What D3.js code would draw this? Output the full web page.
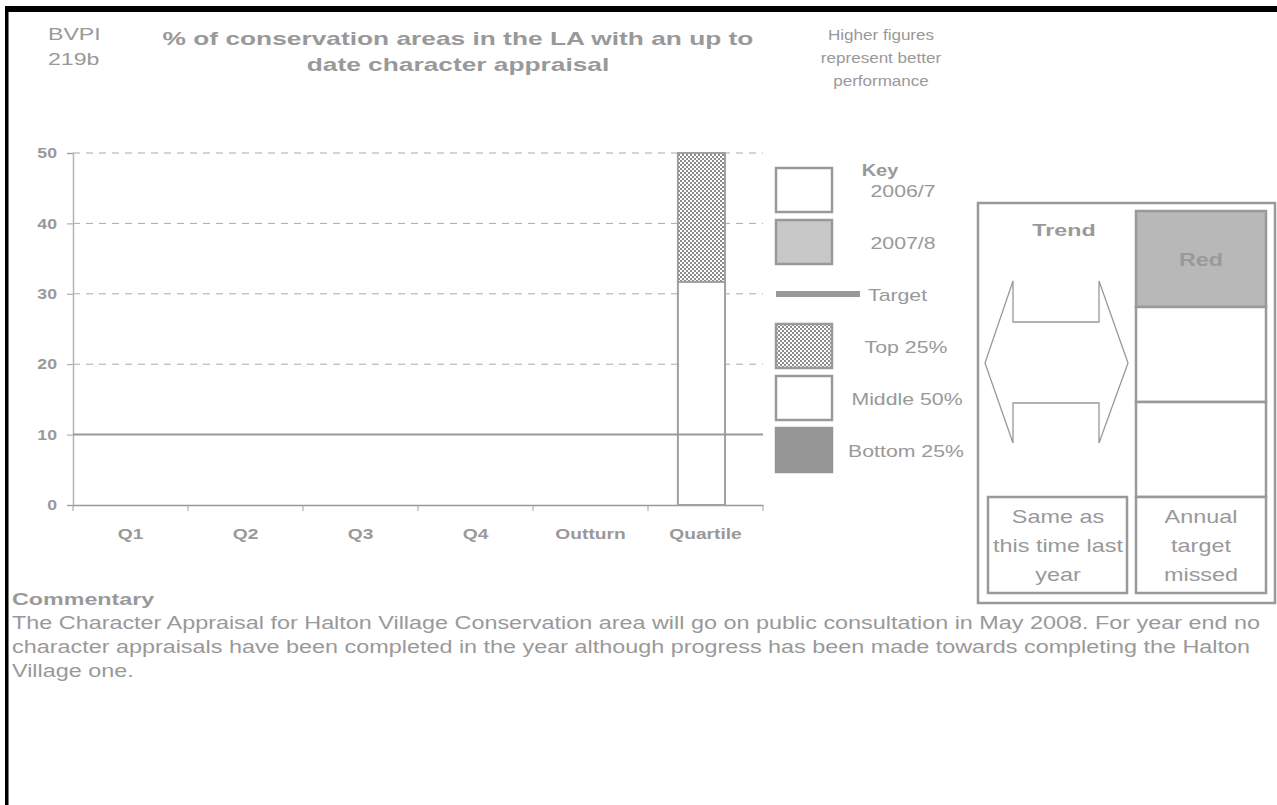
<!DOCTYPE html>
<html>
<head>
<meta charset="utf-8">
<script src="https://cdn.jsdelivr.net/npm/d3@7"></script>
<style>
  html, body { margin: 0; padding: 0; background: #fff; }
  svg { display: block; font-family: "Liberation Sans", Arial, sans-serif; }
</style>
</head>
<body>
<svg id="chart" width="1277" height="805"></svg>
<script>
// Indicator data
const categories = ["Q1", "Q2", "Q3", "Q4", "Outturn", "Quartile"];
const values2006 = [null, null, null, null, null, null];
const values2007 = [null, null, null, null, null, null];
const targetValue = 10;
// Quartile band boundaries (bottom, middle, top)
const quartileBottom = 0;
const quartileMiddle = 31.7;
const quartileTop = 50;
const yTicks = [0, 10, 20, 30, 40, 50];
const gridTicks = [20, 30, 40, 50];
const legendLabels = ["2006/7", "2007/8", "Target", "Top 25%", "Middle 50%", "Bottom 25%"];
const titleLines = ["% of conservation areas in the LA with an up to", "date character appraisal"];
const noteLines = ["Higher figures", "represent better", "performance"];
const trendText = ["Same as", "this time last", "year"];
const targetText = ["Annual", "target", "missed"];
const commentary = [
  "The Character Appraisal for Halton Village Conservation area will go on public consultation in May 2008. For year end no",
  "character appraisals have been completed in the year although progress has been made towards completing the Halton",
  "Village one."
];

const GREY = "#999999";
const svg = d3.select("#chart");

// the report typeface is set wide: widen text horizontally about its anchor
function stretch(sel, sx) {
  sel.each(function () {
    const t = d3.select(this);
    const tx = +t.attr("x") || 0, ty = +t.attr("y") || 0;
    t.attr("transform", `translate(${tx},${ty}) scale(${sx},1)`).attr("x", 0).attr("y", 0);
  });
  return sel;
}

// checker pattern for the top quartile
const defs = svg.append("defs");
const pat = defs.append("pattern").attr("id", "checker")
  .attr("patternUnits", "userSpaceOnUse").attr("width", 4).attr("height", 4);
pat.append("rect").attr("width", 4).attr("height", 4).attr("fill", "#fff");
pat.append("rect").attr("width", 2).attr("height", 2).attr("fill", "#8c8c8c");
pat.append("rect").attr("x", 2).attr("y", 2).attr("width", 2).attr("height", 2).attr("fill", "#8c8c8c");

// page frame
svg.append("rect").attr("x", 5).attr("y", 6).attr("width", 1272).attr("height", 6).attr("fill", "#000");
svg.append("rect").attr("x", 5).attr("y", 6).attr("width", 3.5).attr("height", 799).attr("fill", "#000");

// header texts
stretch(svg.append("g").selectAll("text").data(["BVPI", "219b"]).join("text")
  .attr("x", 48).attr("y", (d, i) => 40 + i * 25)
  .attr("fill", GREY).attr("font-size", 17).text(d => d), 1.36);
stretch(svg.append("g").selectAll("text").data(titleLines).join("text")
  .attr("x", 458).attr("y", (d, i) => 45 + i * 26)
  .attr("text-anchor", "middle").attr("font-weight", "bold").attr("font-size", 19)
  .attr("fill", GREY).text(d => d), 1.385);
stretch(svg.append("g").selectAll("text").data(noteLines).join("text")
  .attr("x", 881).attr("y", (d, i) => 40 + i * 23)
  .attr("text-anchor", "middle").attr("font-size", 15.5)
  .attr("fill", GREY).text(d => d), 1.1);

// scales
const x = d3.scaleBand().domain(categories).range([73, 763]).paddingInner(0).paddingOuter(0);
const y = d3.scaleLinear().domain([0, 50]).range([505, 153]);

// gridlines
svg.append("g").selectAll("line").data(gridTicks).join("line")
  .attr("x1", 73).attr("x2", 763)
  .attr("y1", d => y(d)).attr("y2", d => y(d))
  .attr("stroke", "#aaaaaa").attr("stroke-width", 1).attr("stroke-dasharray", "7,6");

// y axis
const yAxis = svg.append("g").attr("transform", "translate(73,0)")
  .call(d3.axisLeft(y).tickValues(yTicks).tickSize(6).tickPadding(10));
yAxis.select(".domain").attr("stroke", "#b4b4b4").attr("stroke-width", 1.5);
yAxis.selectAll(".tick line").attr("stroke", "#a0a0a0");
stretch(yAxis.selectAll("text").attr("fill", GREY).attr("font-size", 14.5).attr("font-weight", "bold")
  .attr("font-family", "Liberation Sans, Arial, sans-serif"), 1.22);

// x axis
const xAxis = svg.append("g").attr("transform", "translate(0,505)")
  .call(d3.axisBottom(x).tickSize(0).tickPadding(24));
xAxis.select(".domain").attr("stroke", GREY).attr("stroke-width", 1.5);
stretch(xAxis.selectAll("text").attr("fill", GREY).attr("font-size", 14).attr("font-weight", "bold")
  .attr("font-family", "Liberation Sans, Arial, sans-serif"), 1.37);
svg.append("g").selectAll("line").data(d3.range(categories.length + 1)).join("line")
  .attr("x1", i => x.range()[0] + i * x.bandwidth()).attr("x2", i => x.range()[0] + i * x.bandwidth())
  .attr("y1", 505).attr("y2", 511).attr("stroke", "#a0a0a0");

// period bars (no values reported)
const bw = x.bandwidth();
svg.append("g").selectAll("rect").data(categories.map((c, i) => ({c, v: values2006[i]})).filter(d => d.v != null))
  .join("rect").attr("x", d => x(d.c) + bw * 0.2).attr("width", bw * 0.3)
  .attr("y", d => y(d.v)).attr("height", d => y(0) - y(d.v))
  .attr("fill", "#fff").attr("stroke", GREY).attr("stroke-width", 2);
svg.append("g").selectAll("rect").data(categories.map((c, i) => ({c, v: values2007[i]})).filter(d => d.v != null))
  .join("rect").attr("x", d => x(d.c) + bw * 0.5).attr("width", bw * 0.3)
  .attr("y", d => y(d.v)).attr("height", d => y(0) - y(d.v))
  .attr("fill", "#c8c8c8").attr("stroke", GREY).attr("stroke-width", 2);

// quartile stack
const qx = x("Quartile") + bw * 0.26;
const qw = bw * 0.41;
const segments = [
  {lo: quartileBottom, hi: quartileMiddle, fill: "#fff"},
  {lo: quartileMiddle, hi: quartileTop, fill: "url(#checker)"}
];
svg.append("g").selectAll("rect").data(segments).join("rect")
  .attr("x", qx).attr("width", qw)
  .attr("y", d => y(d.hi)).attr("height", d => y(d.lo) - y(d.hi))
  .attr("fill", d => d.fill).attr("stroke", "#a0a0a0").attr("stroke-width", 2);

// target line
svg.append("line").attr("x1", 73).attr("x2", 763)
  .attr("y1", y(targetValue)).attr("y2", y(targetValue))
  .attr("stroke", "#999").attr("stroke-width", 2);

// key
stretch(svg.append("text").attr("x", 880).attr("y", 176).attr("text-anchor", "middle")
  .attr("font-weight", "bold").attr("font-size", 16).attr("fill", GREY).text("Key"), 1.25);
const keyStyles = [
  {type: "box", fill: "#fff", stroke: GREY},
  {type: "box", fill: "#c8c8c8", stroke: GREY},
  {type: "line"},
  {type: "box", fill: "url(#checker)", stroke: GREY},
  {type: "box", fill: "#fff", stroke: GREY},
  {type: "box", fill: "#969696", stroke: "#969696"}
];
const keyTops = [168, 220, 0, 324, 376, 428];
const keyLabelY = [197, 249, 301, 353, 405, 457];
const keyLabelX = [903, 903, 868, 906, 907, 906];
keyStyles.forEach((s, i) => {
  if (s.type === "box") {
    svg.append("rect").attr("x", 776).attr("y", keyTops[i]).attr("width", 56).attr("height", 44)
      .attr("fill", s.fill).attr("stroke", s.stroke).attr("stroke-width", 2.5);
  } else {
    svg.append("rect").attr("x", 776).attr("y", 291).attr("width", 84).attr("height", 6).attr("fill", "#999");
  }
  stretch(svg.append("text").attr("x", keyLabelX[i]).attr("y", keyLabelY[i])
    .attr("text-anchor", s.type === "line" ? "start" : "middle")
    .attr("font-size", 16).attr("fill", GREY).text(legendLabels[i]), 1.33);
});

// trend / status panel
const panel = svg.append("g");
panel.append("rect").attr("x", 978).attr("y", 203).attr("width", 297).attr("height", 400)
  .attr("fill", "#fff").attr("stroke", GREY).attr("stroke-width", 2.5);
stretch(panel.append("text").attr("x", 1064).attr("y", 236).attr("text-anchor", "middle")
  .attr("font-weight", "bold").attr("font-size", 17).attr("fill", GREY).text("Trend"), 1.37);
// double-headed arrow
const arrow = d3.path();
arrow.moveTo(985, 363);
arrow.lineTo(1013, 281);
arrow.lineTo(1013, 322);
arrow.lineTo(1099, 322);
arrow.lineTo(1099, 281);
arrow.lineTo(1128, 363);
arrow.lineTo(1099, 443);
arrow.lineTo(1099, 403);
arrow.lineTo(1013, 403);
arrow.lineTo(1013, 443);
arrow.closePath();
panel.append("path").attr("d", arrow.toString()).attr("fill", "#fff")
  .attr("stroke", GREY).attr("stroke-width", 1.3);

// status column
panel.append("rect").attr("x", 1136).attr("y", 211).attr("width", 130).attr("height", 96)
  .attr("fill", "#b8b8b8").attr("stroke", GREY).attr("stroke-width", 2.5);
stretch(panel.append("text").attr("x", 1201).attr("y", 266).attr("text-anchor", "middle")
  .attr("font-weight", "bold").attr("font-size", 18).attr("fill", "#9a9a9a").text("Red"), 1.3);
panel.append("rect").attr("x", 1136).attr("y", 307).attr("width", 130).attr("height", 95)
  .attr("fill", "#fff").attr("stroke", GREY).attr("stroke-width", 2.5);
panel.append("rect").attr("x", 1136).attr("y", 402).attr("width", 130).attr("height", 95)
  .attr("fill", "#fff").attr("stroke", GREY).attr("stroke-width", 2.5);
panel.append("rect").attr("x", 1136).attr("y", 497).attr("width", 130).attr("height", 96)
  .attr("fill", "#fff").attr("stroke", GREY).attr("stroke-width", 2.5);
panel.append("rect").attr("x", 988).attr("y", 497).attr("width", 139).attr("height", 96)
  .attr("fill", "#fff").attr("stroke", GREY).attr("stroke-width", 2.5);
stretch(panel.append("g").selectAll("text").data(trendText).join("text")
  .attr("x", 1058).attr("y", (d, i) => 523 + i * 29).attr("text-anchor", "middle")
  .attr("font-size", 18).attr("fill", GREY).text(d => d), 1.3);
stretch(panel.append("g").selectAll("text").data(targetText).join("text")
  .attr("x", 1201).attr("y", (d, i) => 523 + i * 29).attr("text-anchor", "middle")
  .attr("font-size", 18).attr("fill", GREY).text(d => d), 1.3);

// commentary
stretch(svg.append("text").attr("x", 12).attr("y", 605).attr("font-weight", "bold")
  .attr("font-size", 17).attr("fill", GREY).text("Commentary"), 1.37);
stretch(svg.append("g").selectAll("text").data(commentary).join("text")
  .attr("x", 12).attr("y", (d, i) => 629 + i * 24)
  .attr("font-size", 17.5).attr("fill", GREY).text(d => d), 1.336);
</script>
</body>
</html>
